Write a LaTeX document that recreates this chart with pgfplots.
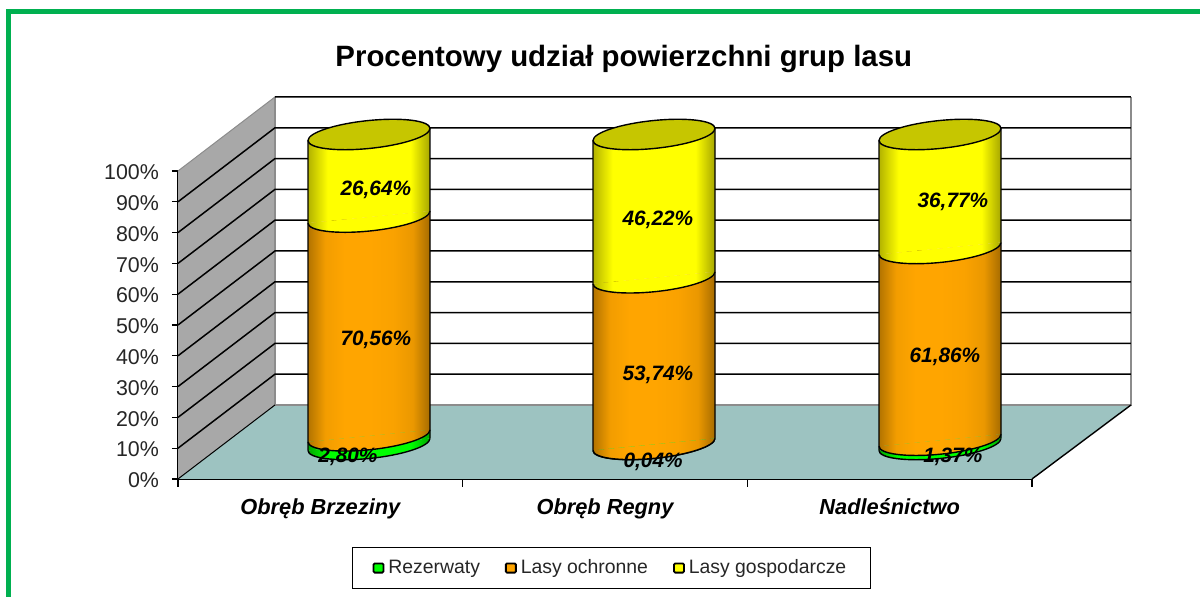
\documentclass[border=0pt]{standalone}
\usepackage{pgfplots}
\pgfplotsset{compat=1.18}
\usepackage{pgfplotstable}
\usepackage{fontspec}
\setmainfont{Liberation Sans}

\definecolor{frame}{HTML}{00B050}
\definecolor{floorc}{HTML}{9DC3C1}
\definecolor{wallc}{HTML}{A8A8A8}
\definecolor{grid}{HTML}{1A1A1A}
\definecolor{lid}{HTML}{C6C600}
\definecolor{orange}{HTML}{FFA500}
\definecolor{green}{HTML}{00FF00}
\definecolor{yellow}{HTML}{FFFF00}

% cylinder shadings: the path box maps onto 25bp..75bp
\pgfdeclarehorizontalshading{cylg}{100bp}{color(0bp)=(black!35!green); color(25bp)=(black!35!green); color(33bp)=(green); color(67bp)=(green); color(75bp)=(black!35!green); color(100bp)=(black!35!green)}
\pgfdeclarehorizontalshading{cylo}{100bp}{color(0bp)=(orange!70!black); color(25bp)=(orange!70!black); color(32bp)=(orange!95!black); color(40bp)=(orange); color(50bp)=(orange); color(60bp)=(orange!98!black); color(68bp)=(orange!92!black); color(75bp)=(orange!65!black); color(100bp)=(orange!65!black)}
\pgfdeclarehorizontalshading{cyly}{100bp}{color(0bp)=(yellow!70!black); color(25bp)=(yellow!70!black); color(33bp)=(yellow); color(67bp)=(yellow); color(75bp)=(yellow!65!black); color(100bp)=(yellow!65!black)}

% lower half of the ellipse; the slant comes from the scope round the axis
\def\halfarc{(-30.5pt,0pt) .. controls (-30.5pt,-3.87pt) and (-16.85pt,-7pt) .. (0pt,-7pt) .. controls (16.85pt,-7pt) and (30.5pt,-3.87pt) .. (30.5pt,0pt)}
\newcommand\footmark[2]{\pgfdeclareplotmark{#1}{%
  \path[draw=none,shade,shading=#2] \halfarc -- cycle;
  \draw[black,line width=.7pt] \halfarc;}}
\footmark{footg}{cylg}
\footmark{footo}{cylo}
\footmark{footy}{cyly}
\pgfdeclareplotmark{lidmark}{\draw[black,line width=.7pt,fill=lid] \halfarc .. controls (30.5pt,3.87pt) and (16.85pt,7pt) .. (0pt,7pt) .. controls (-16.85pt,7pt) and (-30.5pt,3.87pt) .. (-30.5pt,0pt) -- cycle;}

\pgfplotstableread{
x rez och gos
0 2.80 70.56 26.64
}\tabBrzeziny
\pgfplotstableread{
x rez och gos
0 0.04 53.74 46.22
}\tabRegny
\pgfplotstableread{
x rez och gos
0 1.37 61.86 36.77
}\tabNadlesnictwo

% x, y of the label in the front plane, then the value printed
\pgfplotstableread{
x y udzial
0.695 94.5 26.64
0.695 45.8 70.56
0.597 7.8 2.80
1.686 84.7 46.22
1.686 34.4 53.74
1.669 6.2 0.04
2.722 90.6 36.77
2.694 40.3 61.86
2.722 7.8 1.37
}\tabLabels

\newcommand\cylinder[2]{%
\begin{scope}[shift={(#1pt,76.25pt)},yslant=0.0984]
\begin{axis}[
  at={(0pt,0pt)}, anchor=origin,
  x={(30.5pt,0pt)}, y={(0pt,1.55pt)},
  xmin=-1, xmax=1, ymin=0, ymax=100,
  hide axis, clip=false,
  ybar stacked, bar width=2, reverse stacked plots=false,
]
\addplot[shade,shading=cylg,draw=none] table[x=x,y=rez] {#2};
\addplot[only marks,stack plots=false,mark=footg] table[x=x,y expr=0] {#2};
\addplot[shade,shading=cylo,draw=none] table[x=x,y=och] {#2};
\addplot[only marks,stack plots=false,mark=footo] table[x=x,y=rez] {#2};
\addplot[shade,shading=cyly,draw=none] table[x=x,y=gos] {#2};
\addplot[only marks,stack plots=false,mark=footy] table[x=x,y expr=\thisrow{rez}+\thisrow{och}] {#2};
\addplot[sharp plot,stack plots=false,black,line width=.7pt] coordinates {(-1,0) (-1,100)};
\addplot[sharp plot,stack plots=false,black,line width=.7pt] coordinates {(1,0) (1,100)};
\addplot[only marks,stack plots=false,mark=lidmark] table[x=x,y expr=\thisrow{rez}+\thisrow{och}+\thisrow{gos}] {#2};
\end{axis}
\end{scope}}

\begin{document}
\begin{tikzpicture}[x=0.5pt,y=0.5pt]
\useasboundingbox (0,0) rectangle (1200,597);
\draw[frame,line width=2.5pt,line join=miter] (8.5,-10) -- (8.5,585.5) -- (1210,585.5);

\begin{axis}[
  at={(89pt,59pt)}, anchor=south west,
  scale only axis, width=427pt, height=154pt,
  xmin=0, xmax=3, ymin=0, ymax=100,
  clip=false,
  axis lines=left, axis line style={-,black,line width=.8pt},
  xtick={0.5,1.5,2.5},
  xticklabels={Obręb Brzeziny,Obręb Regny,Nadleśnictwo},
  minor xtick={0,1,2,3},
  major x tick style={draw=none},
  minor x tick style={black,line width=.6pt},
  minor tick length=4pt,
  ytick={0,10,...,100},
  y tick style={black,line width=.6pt},
  major tick length=3pt,
  tick align=outside,
  yticklabel={\pgfmathprintnumber{\tick}\%},
  /pgf/number format/assume math mode=true,
  xticklabel style={font=\fontsize{10.9}{12}\selectfont\bfseries\itshape,yshift=-3.4pt},
  yticklabel style={font=\fontsize{10.7}{12}\selectfont\color{black!85},xshift=-3pt,yshift=-.7pt},
  title={Procentowy udział powierzchni grup lasu},
  title style={font=\fontsize{14.7}{16}\selectfont\bfseries,at={(0.522,1.325)},anchor=center},
  legend columns=3,
  legend cell align=left,
  legend style={at={(0.5075,-0.289)},anchor=center,draw=black,line width=.5pt,
    font=\fontsize{9.7}{11}\selectfont\color{black!85},
    inner xsep=10pt,inner ysep=4pt,
    /tikz/every even column/.append style={column sep=10.5pt}},
]
\addlegendimage{legend image code/.code={\path[draw=black,line width=.9pt,rounded corners=.6pt,fill=green] (0pt,-2.3pt) rectangle (5pt,2.3pt);}}
\addlegendentry{Rezerwaty}
\addlegendimage{legend image code/.code={\path[draw=black,line width=.9pt,rounded corners=.6pt,fill=orange] (0pt,-2.3pt) rectangle (5pt,2.3pt);}}
\addlegendentry{Lasy ochronne}
\addlegendimage{legend image code/.code={\path[draw=black,line width=.9pt,rounded corners=.6pt,fill=yellow] (0pt,-2.3pt) rectangle (5pt,2.3pt);}}
\addlegendentry{Lasy gospodarcze}
% left wall, floor, edges of the back wall
\addplot[fill=wallc,draw=none,forget plot] coordinates {(0,0) (0,100) (0.3407,124.03) (0.3407,24.03)} --cycle;
\addplot[fill=floorc,draw=none,forget plot] coordinates {(0,0) (3,0) (3.3477,24.03) (0.3407,24.03)} --cycle;
\addplot[black!45,line width=.6pt,forget plot] coordinates {(0.3407,124.03) (0.3407,24.03)};
\addplot[black!45,line width=.6pt,forget plot] coordinates {(0.3407,24.03) (3.3477,24.03) (3.3477,124.03)};
\addplot[black!45,line width=.5pt,forget plot] coordinates {(0,100) (0.3407,124.03)};
\addplot[black,line width=.7pt,forget plot] coordinates {(3,0) (3.3477,24.03)};
\addplot[black,line width=.5pt,forget plot] coordinates {(0,0) (0.3407,24.03)};
% gridlines, across the left wall and the back wall
\addplot[grid,line width=.75pt,unbounded coords=jump,forget plot] table {
0 10 
0.3407 34.03
3.3477 34.03
nan nan
0 20
0.3407 44.03
3.3477 44.03
nan nan
0 30
0.3407 54.03
3.3477 54.03
nan nan
0 40
0.3407 64.03
3.3477 64.03
nan nan
0 50
0.3407 74.03
3.3477 74.03
nan nan
0 60
0.3407 84.03
3.3477 84.03
nan nan
0 70
0.3407 94.03
3.3477 94.03
nan nan
0 80
0.3407 104.03
3.3477 104.03
nan nan
0 90
0.3407 114.03
3.3477 114.03
nan nan
0.3407 124.03
3.3477 124.03
};
\end{axis}

\cylinder{184.5}{\tabBrzeziny}
\cylinder{327}{\tabRegny}
\cylinder{470}{\tabNadlesnictwo}

\begin{axis}[
  at={(89pt,59pt)}, anchor=south west,
  scale only axis, width=427pt, height=154pt,
  xmin=0, xmax=3, ymin=0, ymax=100,
  hide axis, clip=false,
]
\addplot[draw=none,no marks,point meta=explicit,
  nodes near coords={\pgfmathprintnumber[fixed,fixed zerofill,precision=2,use comma,assume math mode=true]{\pgfplotspointmeta}\%},
  every node near coord/.style={anchor=center,inner sep=0pt,yshift=-1pt,font=\fontsize{10.4}{12}\selectfont\bfseries\itshape,black},
] table[x=x,y=y,meta=udzial] {\tabLabels};
\end{axis}
\end{tikzpicture}
\end{document}
